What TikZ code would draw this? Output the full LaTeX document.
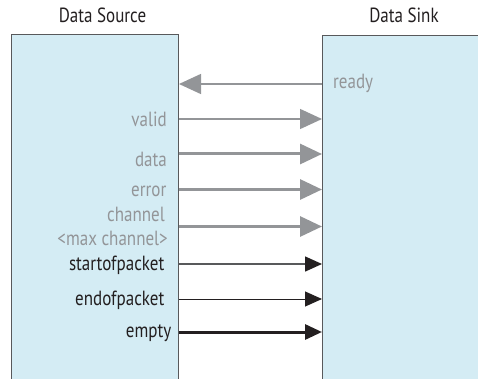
\documentclass[tikz,border=0pt]{standalone}
\usepackage{fontspec}
\setmainfont{PT Sans}[FakeStretch=0.83]
\usetikzlibrary{arrows.meta}
\definecolor{sig}{HTML}{939598}
\definecolor{boxfill}{HTML}{D4ECF4}
\definecolor{boxline}{HTML}{58595B}
\definecolor{ink}{HTML}{231F20}
\tikzset{
  x=1pt, y=-1pt,
  box/.style={draw=boxline, line width=1pt, fill=boxfill, inner sep=0pt, anchor=north west},
  lbl/.style={font=\fontsize{20.5}{22}\selectfont, inner sep=0pt, text=ink},
  glbl/.style={lbl, text=sig},
  ghead/.style={-{Triangle[length=22pt,width=20pt]}},
  bhead/.style={-{Triangle[length=17pt,width=15pt]}},
  gthin/.style={draw=sig, line width=1.4pt, ghead},
  gthick/.style={draw=sig, line width=3pt, ghead},
  kthin/.style={draw=ink, line width=1pt, bhead},
  kmid/.style={draw=boxline, line width=1.5pt, arrows={-{Triangle[length=17pt,width=15pt,color=ink]}}},
  kthick/.style={draw=ink, line width=3pt, bhead},
}
\begin{document}
\begin{tikzpicture}
\useasboundingbox (0,0) rectangle (478,379);
\clip (0,0) rectangle (478,379);
% boxes
\node[box, minimum width=167pt, minimum height=360pt] (src) at (11,34) {};
\node[box, minimum width=170pt, minimum height=360pt] (snk) at (322,35) {};
% titles
\node[lbl, anchor=base] (tsrc) at (102.5,23) {Data Source};
\node[lbl, anchor=base] (tsnk) at (404,23) {Data Sink};
% signal rows
\coordinate (yready) at (0,84);
\coordinate (yvalid) at (0,119);
\coordinate (ydata) at (0,154);
\coordinate (yerror) at (0,189.5);
\coordinate (ychan) at (0,226.5);
\coordinate (ysop) at (0,264);
\coordinate (yeop) at (0,299);
\coordinate (yempty) at (0,332);
% labels
\node[glbl, anchor=base west] (lready) at (333,89) {ready};
\node[glbl, anchor=base east] (lvalid) at (167,126.5) {valid};
\node[glbl, anchor=base east] (ldata) at (167,166.5) {data};
\node[glbl, anchor=base east] (lerror) at (166.5,196.5) {error};
\node[glbl, anchor=base east] (lchan) at (165,221.5) {channel};
\node[glbl, anchor=base east] (lmax) at (168,245) {<max channel>};
\node[lbl, anchor=base east] (lsop) at (164.5,270.5) {startofpacket};
\node[lbl, anchor=base east] (leop) at (164.5,305) {endofpacket};
\node[lbl, anchor=base east] (lempty) at (171.5,337) {empty};
% connectors
\draw[gthin] (snk.west |- yready) -- (src.east |- yready);
\draw[gthin] (src.east |- yvalid) -- (snk.west |- yvalid);
\draw[gthick] (src.east |- ydata) -- (snk.west |- ydata);
\draw[gthick] (src.east |- yerror) -- (snk.west |- yerror);
\draw[gthick] (src.east |- ychan) -- (snk.west |- ychan);
\draw[kmid] (src.east |- ysop) -- (snk.west |- ysop);
\draw[kthin] (src.east |- yeop) -- (snk.west |- yeop);
\draw[kthick] (src.east |- yempty) -- (snk.west |- yempty);
\end{tikzpicture}
\end{document}
